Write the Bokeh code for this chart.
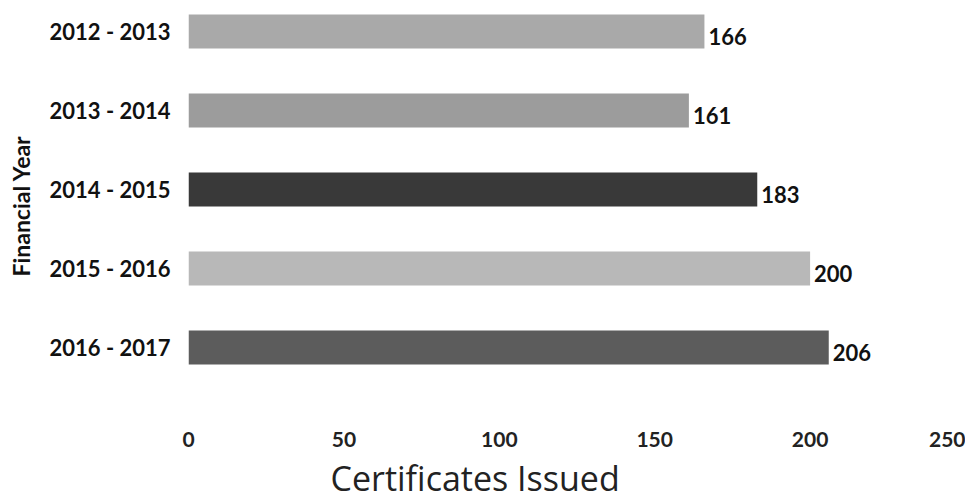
from bokeh.plotting import figure
from bokeh.models import ColumnDataSource, Range1d, FixedTicker, LabelSet, Title
from bokeh.core.properties import value
from bokeh.embed import file_html
from bokeh.resources import INLINE

years = ["2012 - 2013", "2013 - 2014", "2014 - 2015", "2015 - 2016", "2016 - 2017"]
certificates = [166, 161, 183, 200, 206]
bar_colors = ["#a9a9a9", "#9c9c9c", "#393939", "#b8b8b8", "#5c5c5c"]
x_ticks = [0, 50, 100, 150, 200, 250]

ypos = list(range(len(years)))
src = ColumnDataSource(dict(y=ypos, v=certificates, c=bar_colors,
                            lbl=[str(v) for v in certificates]))

p = figure(width=965, height=503, output_backend="svg", toolbar_location=None,
           x_range=Range1d(0, 250), y_range=Range1d(4.811, -0.392),
           min_border_left=188, min_border_right=0, min_border_top=0,
           min_border_bottom=0)

p.hbar(y="y", left=0, right="v", height=0.43, fill_color="c", line_color=None,
       source=src)

labels = LabelSet(x="v", y="y", text="lbl", source=src, x_offset=4, y_offset=-5,
                  text_baseline="middle", text_align="left",
                  text_font=value("Lato"), text_font_style="bold",
                  text_font_size="22px", text_color="#111111")
p.add_layout(labels)

p.xgrid.visible = False
p.ygrid.visible = False
p.outline_line_color = None

p.xaxis.ticker = FixedTicker(ticks=x_ticks)
p.xaxis.axis_line_color = None
p.xaxis.major_tick_line_color = None
p.xaxis.minor_tick_line_color = None
p.xaxis.major_tick_out = 0
p.xaxis.major_tick_in = 0
p.xaxis.major_label_text_font = "Lato"
p.xaxis.major_label_text_font_style = "bold"
p.xaxis.major_label_text_font_size = "21px"
p.xaxis.major_label_text_color = "#222222"
p.xaxis.major_label_standoff = 20

xtitle = Title(text="Certificates Issued", align="left", offset=142,
               text_font="Open Sans", text_font_style="normal",
               text_font_size="34px", text_color="#222222", standoff=6)
p.add_layout(xtitle, "below")

p.yaxis.ticker = FixedTicker(ticks=ypos)
p.yaxis.major_label_overrides = {i: y for i, y in enumerate(years)}
p.yaxis.axis_line_color = None
p.yaxis.major_tick_line_color = None
p.yaxis.minor_tick_line_color = None
p.yaxis.major_tick_out = 0
p.yaxis.major_tick_in = 0
p.yaxis.major_label_text_font = "Lato"
p.yaxis.major_label_text_font_style = "bold"
p.yaxis.major_label_text_font_size = "22px"
p.yaxis.major_label_text_color = "#111111"
p.yaxis.major_label_standoff = 18
p.yaxis.axis_label = "Financial Year"
p.yaxis.axis_label_text_font = "Lato"
p.yaxis.axis_label_text_font_style = "bold"
p.yaxis.axis_label_text_font_size = "23px"
p.yaxis.axis_label_text_color = "#111111"
p.yaxis.axis_label_standoff = 12

open("out.html", "w").write(file_html(p, INLINE))
